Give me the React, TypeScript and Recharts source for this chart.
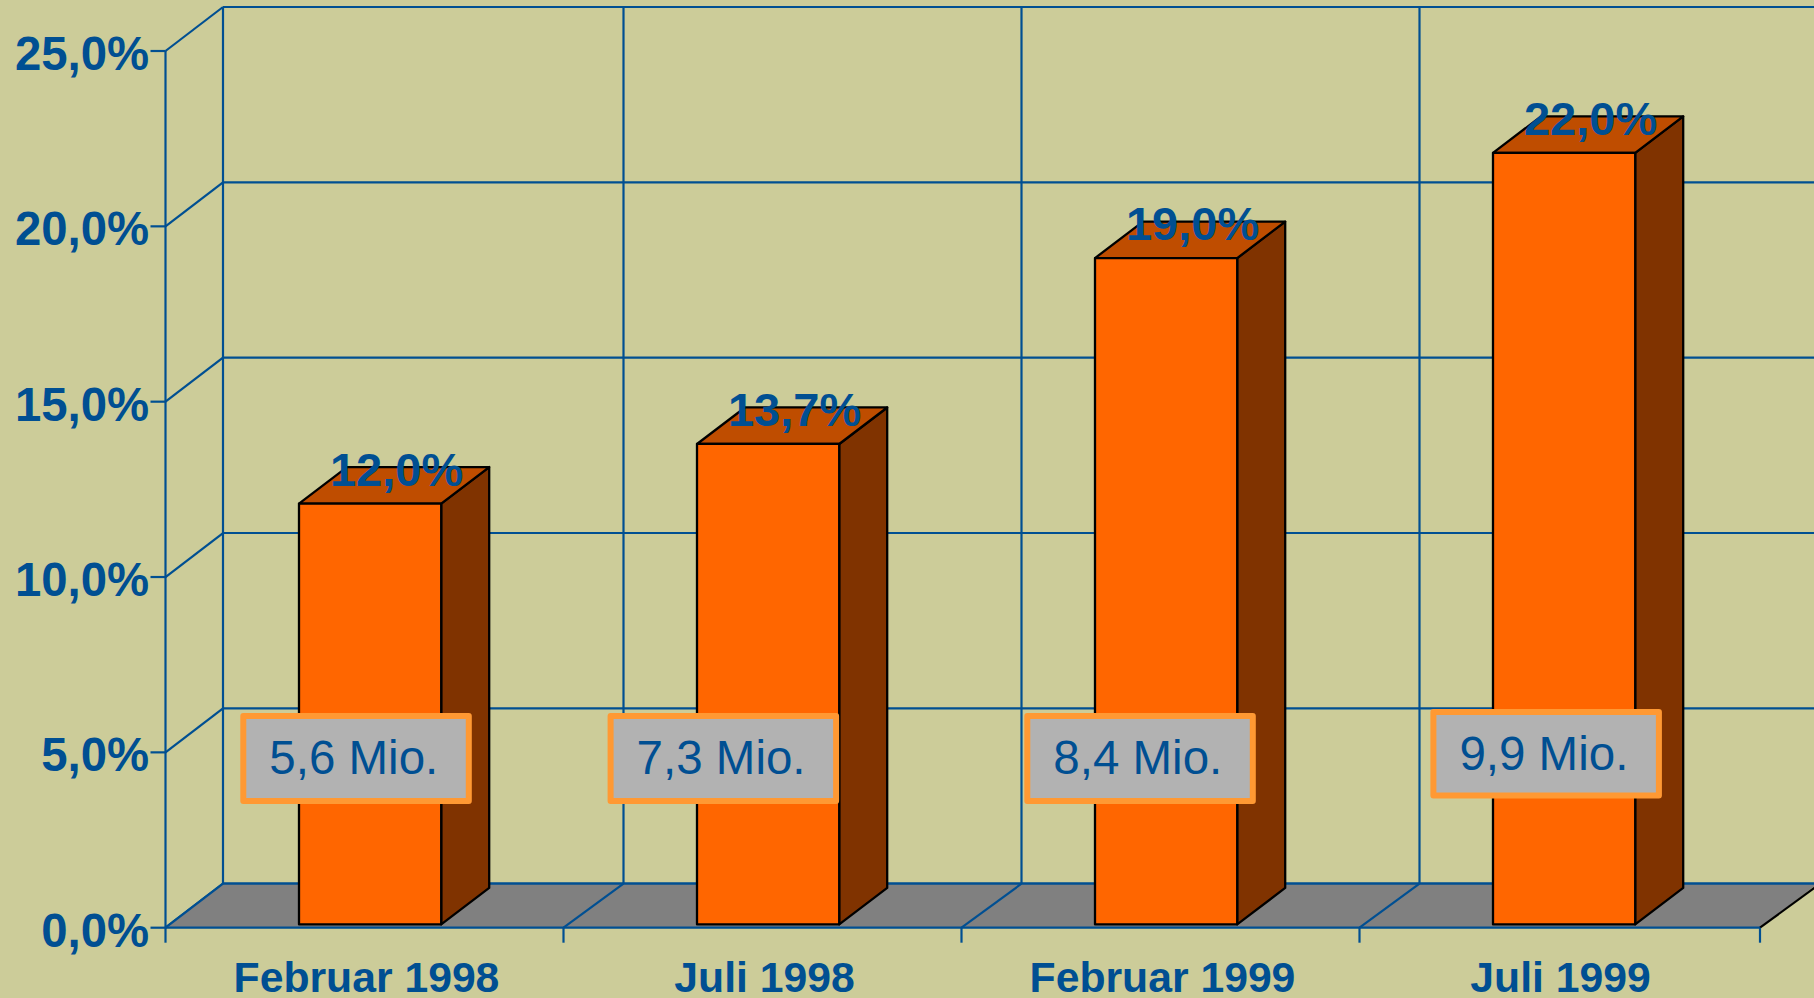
import React from 'react';
import { BarChart, Bar, XAxis, YAxis, CartesianGrid, LabelList } from 'recharts';

const categories = ['Februar 1998', 'Juli 1998', 'Februar 1999', 'Juli 1999'];
const shares = [12.0, 13.7, 19.0, 22.0];
const users = ['5,6 Mio.', '7,3 Mio.', '8,4 Mio.', '9,9 Mio.'];
const yTicks = [0, 5, 10, 15, 20, 25];

const data = categories.map((name, i) => ({ name, share: shares[i], user: users[i] }));

const BG = '#CCCC99';
const BLUE = '#004F92';
const FONT = '"Liberation Sans", Arial, sans-serif';
const LINE_W = 2.2;
const WALL_DX = 57.5;
const INNER_WALL_DX = 60;
const WALL_DY = 44;
const LAST_TICK_EXTRA = 2.5;
const BAR_DX = 48;
const BAR_DY = 36.5;
const INSET_X = 5.5;
const INSET_Y = 3.3;
const boxOffsets = [
  { dx: -58.7, top: 211.3, h: 91 },
  { dx: -89.4, top: 211.3, h: 91 },
  { dx: -70.7, top: 211.3, h: 91 },
  { dx: -62.6, top: 215.3, h: 89.5 },
];
const BOX_W = 231.5;

const pct = (v: number) => v.toFixed(1).replace('.', ',') + '%';

function Bar3D(props: any) {
  const { x, y, width, height } = props;
  const l = x + INSET_X;
  const t = y - INSET_Y;
  const r = l + width;
  const b = t + height;
  const common = { stroke: '#000', strokeWidth: 2.3, strokeLinejoin: 'round' as const };
  return (
    <g>
      <path d={`M${r},${t}L${r + BAR_DX},${t - BAR_DY}L${r + BAR_DX},${b - BAR_DY}L${r},${b}Z`} fill="#803300" {...common} />
      <path d={`M${l},${t}L${l + BAR_DX},${t - BAR_DY}L${r + BAR_DX},${t - BAR_DY}L${r},${t}Z`} fill="#BF4D00" {...common} />
      <rect x={l} y={t} width={width} height={height} fill="#FF6600" {...common} />
    </g>
  );
}

function geom(props: any) {
  const v = props.viewBox ?? props;
  return { x: v.x ?? props.x, y: v.y ?? props.y, width: v.width ?? props.width, height: v.height ?? props.height };
}

function ShareLabel(props: any) {
  const { x, y, width } = geom(props);
  return (
    <text x={x + INSET_X + width / 2 + 26.5} y={y - INSET_Y - 18} textAnchor="middle" fill={BLUE} fontFamily={FONT} fontWeight="bold" fontSize={47}>
      {pct(Number(props.value))}
    </text>
  );
}

function UserBox(props: any) {
  const { x, y, height } = geom(props);
  const o = boxOffsets[props.index];
  const bx = x + INSET_X + o.dx;
  const by = y + height - INSET_Y - o.top;
  return (
    <g>
      <rect x={bx + 3} y={by + 3} width={BOX_W - 6} height={o.h - 6} fill="#B2B2B2" stroke="#FF9933" strokeWidth={6} strokeLinejoin="round" />
      <text x={bx + 29} y={by + 61} fill={BLUE} fontFamily={FONT} fontSize={47.5}>
        {props.value}
      </text>
    </g>
  );
}

function HorizontalLine(props: any) {
  const { x1, y1 } = props;
  return (
    <g stroke={BLUE} strokeWidth={LINE_W} fill="none">
      <line x1={x1} y1={y1} x2={x1 + WALL_DX} y2={y1 - WALL_DY} />
      <line x1={x1 + WALL_DX} y1={y1 - WALL_DY} x2={1814} y2={y1 - WALL_DY} />
    </g>
  );
}

function VerticalLine(props: any) {
  const { x1, y1, y2, index, plotLeft, plotRight } = props;
  const last = index === categories.length;
  const dx = index === 0 ? WALL_DX : INNER_WALL_DX;
  const backY = y2 - WALL_DY;
  return (
    <g fill="none">
      {index === 0 && (
        <path
          d={`M${plotLeft},${y2}L${plotRight},${y2}L${plotRight + WALL_DX},${backY}L${plotLeft + WALL_DX},${backY}Z`}
          fill="#808080"
          stroke="none"
        />
      )}
      {index === 0 && <line x1={plotLeft + WALL_DX} y1={backY} x2={1814} y2={backY} stroke={BLUE} strokeWidth={LINE_W} />}
      {index === 0 && <line x1={plotLeft} y1={y2} x2={plotRight} y2={y2} stroke={BLUE} strokeWidth={LINE_W} />}
      <line x1={x1 + dx} y1={y1 - WALL_DY} x2={x1 + dx} y2={backY} stroke={BLUE} strokeWidth={LINE_W} />
      <line x1={x1} y1={y2} x2={x1 + dx} y2={backY} stroke={last ? '#000' : BLUE} strokeWidth={LINE_W} />
      <line x1={x1} y1={y2} x2={x1} y2={y2 + 15} stroke={BLUE} strokeWidth={LINE_W} />
    </g>
  );
}

function XTick(props: any) {
  return (
    <text x={props.x + 2} y={991.7} textAnchor="middle" fill={BLUE} fontFamily={FONT} fontWeight="bold" fontSize={42.7}>
      {props.payload.value}
    </text>
  );
}

function YTick(props: any) {
  return (
    <text x={props.x + 1.5} y={props.y + 19} textAnchor="end" fill={BLUE} fontFamily={FONT} fontWeight="bold" fontSize={47.3}>
      {pct(Number(props.payload.value))}
    </text>
  );
}

export default function App() {
  const left = 165.5;
  const plotW = 1592;
  return (
    <div style={{ position: 'absolute', left: 0, top: 0, width: 1814, height: 998, background: BG, overflow: 'hidden' }}>
      <BarChart
        width={1814}
        height={998}
        data={data}
        margin={{ top: 51, right: 56.5, bottom: 0, left: 0 }}
        barSize={142.2}
      >
        <CartesianGrid
          horizontal={(p: any) => <HorizontalLine key={p.key} {...p} />}
          vertical={(p: any) => (
            <VerticalLine key={p.key} {...p} plotLeft={left} plotRight={left + plotW + LAST_TICK_EXTRA} />
          )}
          verticalCoordinatesGenerator={({ offset }: any) =>
            [...categories.map((_, i) => i), categories.length].map(
              (i) => offset.left + (offset.width * i) / categories.length + (i === categories.length ? LAST_TICK_EXTRA : 0),
            )
          }
        />
        <XAxis dataKey="name" height={70.3} interval={0} tickLine={false} axisLine={false} tick={XTick} />
        <YAxis
          type="number"
          width={left}
          domain={[0, 25]}
          ticks={yTicks}
          interval={0}
          tickSize={15}
          tickMargin={3}
          tickLine={{ stroke: BLUE, strokeWidth: LINE_W }}
          axisLine={{ stroke: BLUE, strokeWidth: LINE_W }}
          tick={YTick}
        />
        <Bar dataKey="share" isAnimationActive={false} shape={Bar3D}>
          <LabelList dataKey="user" content={UserBox} />
          <LabelList dataKey="share" content={ShareLabel} />
        </Bar>
      </BarChart>
    </div>
  );
}
